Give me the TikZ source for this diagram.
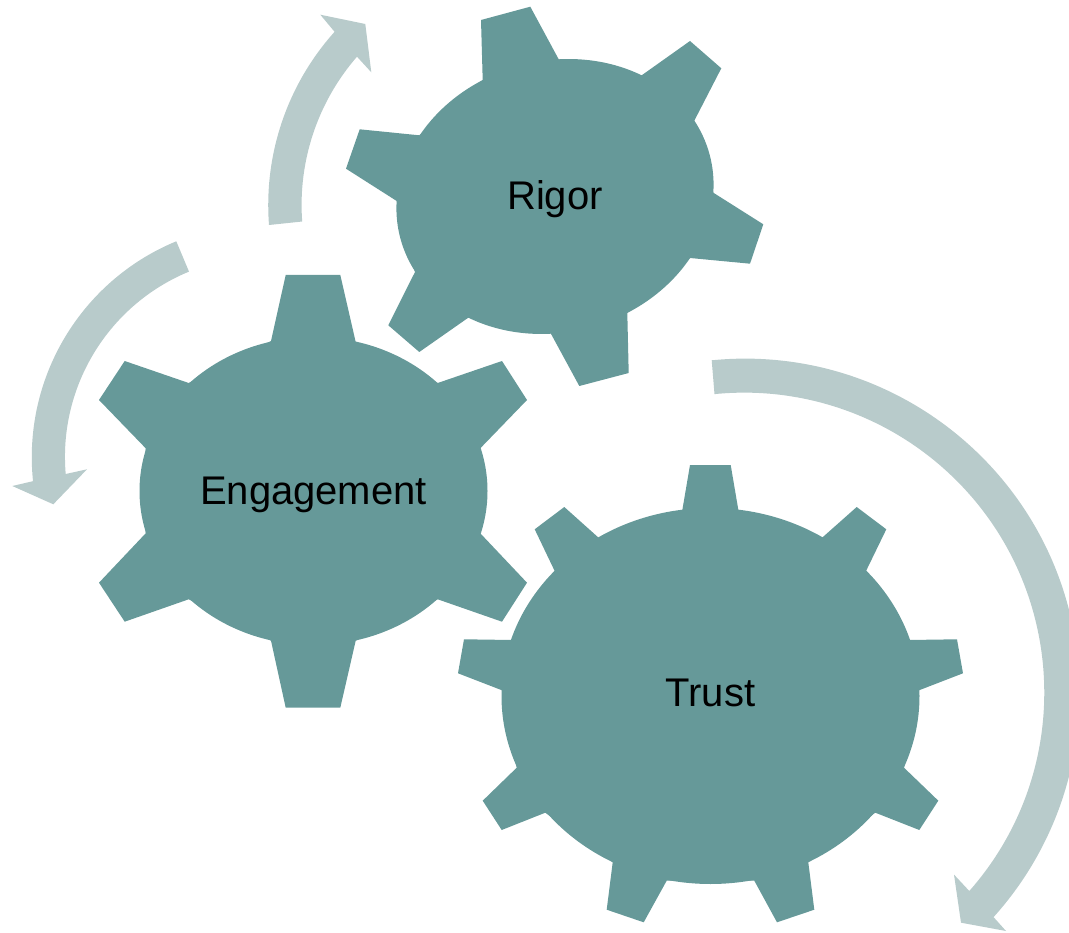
\documentclass[tikz,border=0pt]{standalone}
\usepackage{fontspec}
\setmainfont{Liberation Sans}
\usepackage{xcolor}
\usepackage{tikz}
\definecolor{gearteal}{HTML}{669999}
\definecolor{arrowgrey}{HTML}{B8CBCB}
\tikzset{
    gear/.style={fill=gearteal},
    cyclearrow/.style={fill=arrowgrey},
    gearlabel/.style={anchor=base,inner sep=0pt,font=\fontsize{40}{48}\selectfont}
}

\begin{document}
\begin{tikzpicture}[x=1pt,y=-1pt]
        \clip [use as bounding box] (0, 0) rectangle (1069, 933);
        % arrows
        \path [cyclearrow] (269, 225) arc [start angle=175.6, end angle=221.9, radius=259.5]
            -- (320.3, 14.7) -- (365.3, 24) -- (371.3, 72.3) -- (357, 56.7)
            arc [start angle=221, end angle=175.8, radius=226] -- cycle;
        \path [cyclearrow] (176.3, 241.3) arc [start angle=247.6, end angle=174.1, radius=233.5]
            -- (12.3, 486) -- (53.3, 504.3) -- (87, 469.3) -- (65.7, 474)
            arc [start angle=175.1, end angle=247.6, radius=200.4] -- cycle;
        \path [cyclearrow] (711.7, 360.3) arc [start angle=264.3, end angle=402, radius=334.6]
            -- (1006, 931) -- (961, 922.7) -- (954, 874.6) -- (969.3, 891)
            arc [start angle=41.4, end angle=-95.7, radius=300] -- cycle;
        % gears
        \path [gear] (482.7, 80) -- (481, 20) -- (530.3, 6.7) -- (558.7, 59.3)
            -- (641.7, 75.3) -- (690, 41) -- (721.3, 68.3) -- (694.3, 120.7)
            -- (713.3, 192.7) -- (763.3, 224.3) -- (750, 263.7) -- (690, 258)
            -- (627.3, 312.7) -- (628.7, 373) -- (579.3, 386) -- (550.7, 333.3)
            -- (468.3, 317.7) -- (419.3, 352) -- (388.3, 325.3) -- (415, 272)
            -- (396.7, 201) -- (346, 168.7) -- (359.7, 129.3) -- (419.3, 135.3) -- cycle;
        \path [gear, shift={(555, 196.5)}, rotate=15.6] (0, 0) ellipse [x radius=160.2, y radius=135.5];
        \path [gear] (271, 341) -- (285.7, 275) -- (340.3, 275) -- (355.7, 342)
            -- (437.7, 383) -- (502, 361) -- (527, 400) -- (480.3, 448.3)
            -- (480.3, 533.3) -- (527, 582.7) -- (502, 621.7) -- (437.7, 599.3)
            -- (355.7, 640.7) -- (340.3, 707.7) -- (285.7, 707.7) -- (271, 640.7)
            -- (188.7, 599.3) -- (124.7, 621.7) -- (99, 582.7) -- (145.7, 533.3)
            -- (145.7, 448.3) -- (99, 400) -- (124.7, 361) -- (188.7, 383) -- cycle;
        \path [gear] (313.5, 491) ellipse [x radius=174, y radius=154];
        \path [gear] (682, 512) -- (690, 465) -- (730.7, 465) -- (738.7, 512)
            -- (821, 538.7) -- (856.7, 507) -- (886.3, 529.3) -- (865.7, 571.7)
            -- (909.3, 640) -- (957, 639.3) -- (963, 673.3) -- (919, 690.3)
            -- (904, 767.7) -- (938.3, 800.7) -- (919.3, 830) -- (875.3, 812.7)
            -- (808.3, 862.3) -- (814.3, 909.7) -- (777, 922.3) -- (754.3, 880.7)
            -- (666.7, 880.7) -- (643.7, 922.3) -- (606.7, 909.7) -- (612.7, 862.3)
            -- (545.3, 812.7) -- (501.7, 830) -- (482.7, 800.7) -- (516.7, 767.7)
            -- (502, 690.3) -- (458, 673.3) -- (464, 639.3) -- (511.7, 640)
            -- (555, 571.7) -- (534.7, 529.3) -- (564.3, 507) -- (599.7, 538.7) -- cycle;
        \path [gear] (710.5, 696) ellipse [x radius=209, y radius=188];
        % labels
        \node [gearlabel] (rigor) at (555, 210) {Rigor};
        \node [gearlabel] (engagement) at (313.5, 504.3) {Engagement};
        \node [gearlabel] (trust) at (710.5, 706.7) {Trust};
    \end{tikzpicture}
\end{document}
